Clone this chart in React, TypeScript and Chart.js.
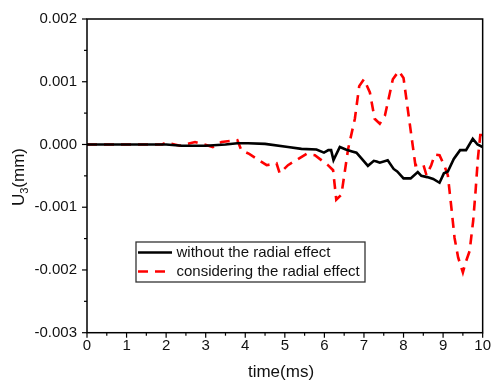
import React, { useEffect, useRef } from "react";
import { Chart, registerables } from "chart.js";

Chart.register(...registerables);

// time (ms)
const timeBlack = [0, 0.5, 1, 1.5, 2, 2.4, 3.0, 3.5, 3.8, 4.07, 4.5, 5.08, 5.42, 5.8, 5.99, 6.1, 6.17, 6.23, 6.39, 6.54, 6.7, 6.81, 6.92, 7.1, 7.25, 7.32, 7.4, 7.6, 7.75, 7.84, 8.0, 8.18, 8.36, 8.45, 8.6, 8.75, 8.91, 9.02, 9.12, 9.27, 9.43, 9.58, 9.75, 9.87, 10];
// U3 (mm) without the radial effect
const valBlack = [0, 0, 0, 0, 0, -0.00002, -0.00002, 0, 0.00002, 0.00002, 0.00001, -0.00004, -0.00007, -0.00008, -0.00013, -0.00009, -0.00009, -0.00025, -0.00004, -0.00008, -0.00011, -0.00013, -0.00021, -0.00034, -0.00026, -0.00027, -0.00029, -0.00025, -0.00039, -0.00043, -0.00054, -0.00054, -0.00044, -0.0005, -0.00052, -0.00055, -0.00061, -0.00046, -0.00043, -0.00023, -0.00009, -0.00009, 0.00009, 0.0, -0.00004];

const timeRed = [0, 1.0, 1.9, 2.0, 2.35, 2.73, 3.18, 3.4, 3.8, 3.9, 4.1, 4.54, 4.79, 4.87, 5.08, 5.55, 5.76, 6.09, 6.22, 6.3, 6.43, 6.6, 6.77, 6.88, 7.0, 7.15, 7.27, 7.4, 7.53, 7.73, 7.88, 8.0, 8.3, 8.41, 8.5, 8.58, 8.7, 8.79, 8.91, 9.04, 9.12, 9.21, 9.29, 9.38, 9.5, 9.57, 9.67, 9.76, 9.82, 9.88, 9.94, 10];
// U3 (mm) considering the radial effect
const valRed = [0, 0, 0, 0.00003, -0.00002, 0.00004, -0.00004, 0.00004, 0.00007, -0.00009, -0.00015, -0.00033, -0.0003, -0.00046, -0.00033, -0.00015, -0.00017, -0.00033, -0.00041, -0.00088, -0.0008, -0.00007, 0.00041, 0.00093, 0.00104, 0.00083, 0.00041, 0.00033, 0.00046, 0.00104, 0.00117, 0.00106, -0.00033, -0.00032, -0.00032, -0.00049, -0.00033, -0.00016, -0.00017, -0.00035, -0.00049, -0.00101, -0.00149, -0.0018, -0.00204, -0.00188, -0.0017, -0.00122, -0.00075, -0.00022, 0.00015, 0.00015];

const seriesLabels = ["without the radial effect", "considering the radial effect"];
const xTicks = [0, 1, 2, 3, 4, 5, 6, 7, 8, 9, 10];
const yTicks = [-0.003, -0.002, -0.001, 0, 0.001, 0.002];
const xTitle = "time(ms)";
const yTitle = ["U", "3", "(mm)"];

const FONT = "'Liberation Sans', Arial, sans-serif";

const decorPlugin = {
  id: "decor",
  afterDraw(chart: any) {
    const ctx = chart.ctx;
    const ca = chart.chartArea;
    const xs = chart.scales.x;
    const ys = chart.scales.y;
    ctx.save();
    // frame
    ctx.strokeStyle = "#000";
    ctx.lineWidth = 1.5;
    ctx.strokeRect(ca.left, ca.top, ca.right - ca.left, ca.bottom - ca.top);
    // x ticks
    ctx.lineWidth = 1.2;
    for (let i = 0; i <= 20; i++) {
      const v = i * 0.5;
      const px = xs.getPixelForValue(v);
      const len = i % 2 === 0 ? 5 : 3;
      ctx.beginPath();
      ctx.moveTo(px, ca.bottom);
      ctx.lineTo(px, ca.bottom + len);
      ctx.stroke();
    }
    // y ticks
    for (let i = 0; i <= 10; i++) {
      const v = -0.003 + i * 0.0005;
      const py = ys.getPixelForValue(v);
      const len = i % 2 === 0 ? 5 : 3;
      ctx.beginPath();
      ctx.moveTo(ca.left, py);
      ctx.lineTo(ca.left - len, py);
      ctx.stroke();
    }
    // x title
    ctx.fillStyle = "#111";
    ctx.font = `17px ${FONT}`;
    ctx.textAlign = "center";
    ctx.textBaseline = "middle";
    ctx.fillText(xTitle, 281, 372);
    // y title with subscript
    ctx.save();
    ctx.translate(19, 177);
    ctx.rotate(-Math.PI / 2);
    ctx.textBaseline = "middle";
    ctx.textAlign = "left";
    const big = `17px ${FONT}`;
    const small = `11px ${FONT}`;
    ctx.font = big;
    const w1 = ctx.measureText(yTitle[0]).width;
    const w3 = ctx.measureText(yTitle[2]).width;
    ctx.font = small;
    const w2 = ctx.measureText(yTitle[1]).width;
    const total = w1 + w2 + w3;
    let x0 = -total / 2;
    ctx.font = big;
    ctx.fillText(yTitle[0], x0, 0);
    x0 += w1;
    ctx.font = small;
    ctx.fillText(yTitle[1], x0, 6);
    x0 += w2;
    ctx.font = big;
    ctx.fillText(yTitle[2], x0, 0);
    ctx.restore();
    // legend
    const lx = 136, ly = 242, lw = 229, lh = 40;
    ctx.fillStyle = "#fff";
    ctx.fillRect(lx, ly, lw, lh);
    ctx.strokeStyle = "#333";
    ctx.lineWidth = 1.3;
    ctx.strokeRect(lx, ly, lw, lh);
    const rows = [252.5, 271.5];
    chart.data.datasets.forEach((ds: any, i: number) => {
      const y = rows[i];
      ctx.strokeStyle = ds.borderColor;
      ctx.lineWidth = ds.borderWidth;
      ctx.setLineDash(ds.borderDash || []);
      ctx.beginPath();
      ctx.moveTo(138, y);
      ctx.lineTo(172, y);
      ctx.stroke();
      ctx.setLineDash([]);
      ctx.fillStyle = "#111";
      ctx.font = `15px ${FONT}`;
      ctx.textAlign = "left";
      ctx.textBaseline = "middle";
      ctx.fillText(ds.label, 176.5, y);
    });
    ctx.restore();
  },
};

export default function App() {
  const ref = useRef<HTMLCanvasElement | null>(null);
  useEffect(() => {
    if (!ref.current) return;
    const chart = new Chart(ref.current, {
      type: "line",
      data: {
        datasets: [
          {
            label: seriesLabels[0],
            data: timeBlack.map((t, i) => ({ x: t, y: valBlack[i] })),
            borderColor: "#000000",
            borderWidth: 2.6,
            pointRadius: 0,
            tension: 0,
            fill: false,
          },
          {
            label: seriesLabels[1],
            data: timeRed.map((t, i) => ({ x: t, y: valRed[i] })),
            borderColor: "#ff0000",
            borderWidth: 2.6,
            borderDash: [10, 7],
            pointRadius: 0,
            tension: 0,
            fill: false,
          },
        ],
      },
      options: {
        responsive: false,
        animation: false,
        devicePixelRatio: 1,
        layout: { padding: { top: 15.7, right: 12, left: 0, bottom: 0 } },
        plugins: { legend: { display: false }, tooltip: { enabled: false } },
        scales: {
          x: {
            type: "linear",
            min: 0,
            max: 10,
            afterBuildTicks: (s: any) => {
              s.ticks = xTicks.map((v) => ({ value: v }));
            },
            afterFit: (s: any) => {
              s.height = 47.3;
            },
            grid: { display: false, drawTicks: false },
            border: { display: false },
            ticks: {
              padding: 4,
              color: "#111",
              font: { family: FONT, size: 15 },
              maxRotation: 0,
              autoSkip: false,
              callback: (v: any) => String(v),
            },
          },
          y: {
            type: "linear",
            min: -0.003,
            max: 0.002,
            afterBuildTicks: (s: any) => {
              s.ticks = yTicks.map((v) => ({ value: v }));
            },
            afterFit: (s: any) => {
              s.width = 87;
            },
            grid: { display: false, drawTicks: false },
            border: { display: false },
            ticks: {
              padding: 10,
              color: "#111",
              font: { family: FONT, size: 15 },
              autoSkip: false,
              callback: (v: any) => {
                const n = Number(v);
                return Math.abs(n) < 1e-9 ? "0.000" : n.toFixed(3);
              },
            },
          },
        },
      },
      plugins: [decorPlugin],
    } as any);
    return () => chart.destroy();
  }, []);
  return (
    <div style={{ position: "absolute", left: 0, top: 0, width: 495, height: 380, background: "#fff" }}>
      <canvas ref={ref} width={495} height={380} style={{ display: "block" }} />
    </div>
  );
}
